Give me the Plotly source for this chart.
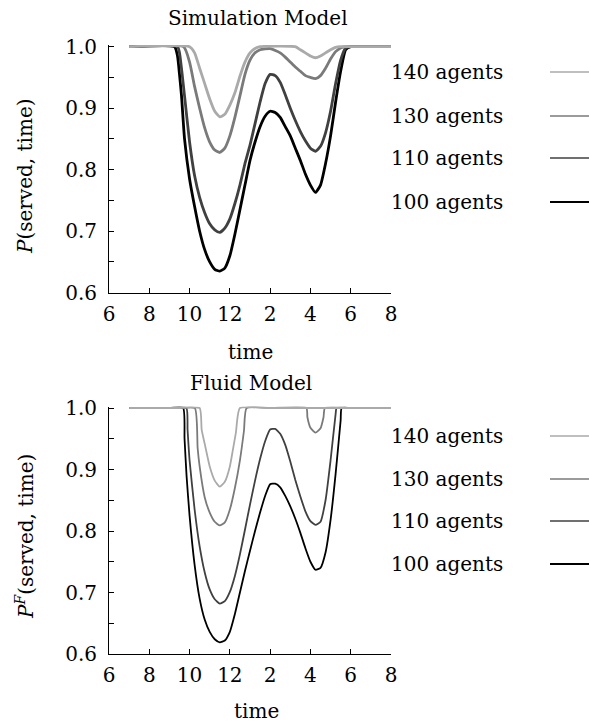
import plotly.graph_objects as go

# ---------------- data ----------------
series_names = ["100 agents", "110 agents", "130 agents", "140 agents"]
series_colors = ["#000000", "#404040", "#7a7a7a", "#aaaaaa"]

# Simulation model (hours of day, 12 = noon, 14 = 2pm ...)
sim_t_100 = [7, 9.25, 9.4, 9.5, 9.6, 9.75, 10.0, 10.25, 10.5, 10.75, 11.0, 11.25, 11.5, 11.75, 12.0, 12.25,
             12.5, 12.75, 13.0, 13.25, 13.5, 13.75, 14.0, 14.25, 14.5, 14.75, 15.0, 15.25, 15.5, 15.75, 16.0,
             16.25, 16.5, 16.75, 17.0, 17.25, 17.5, 17.75, 18.0, 19.0, 20]
sim_v_100 = [1.0, 1.0, 0.985, 0.955, 0.92, 0.85, 0.785, 0.74, 0.70, 0.67, 0.65, 0.638, 0.635, 0.64, 0.66, 0.695,
             0.735, 0.775, 0.815, 0.845, 0.87, 0.887, 0.895, 0.893, 0.885, 0.87, 0.855, 0.835, 0.815, 0.793, 0.775,
             0.763, 0.775, 0.81, 0.855, 0.91, 0.96, 0.995, 1.0, 1.0, 1.0]

sim_t_110 = [7, 9.4, 9.5, 9.75, 10.0, 10.25, 10.5, 10.75, 11.0, 11.25, 11.5, 11.75, 12.0, 12.25, 12.5, 12.75,
             13.0, 13.25, 13.5, 13.75, 14.0, 14.25, 14.5, 14.75, 15.0, 15.25, 15.5, 15.75, 16.0, 16.25, 16.5,
             16.75, 17.0, 17.25, 17.5, 17.75, 18.0, 19.0, 20]
sim_v_110 = [1.0, 1.0, 0.99, 0.92, 0.845, 0.79, 0.755, 0.73, 0.712, 0.702, 0.698, 0.705, 0.72, 0.745, 0.775, 0.81,
             0.84, 0.875, 0.91, 0.94, 0.955, 0.953, 0.942, 0.922, 0.90, 0.88, 0.862, 0.847, 0.835, 0.83, 0.838,
             0.86, 0.895, 0.94, 0.978, 0.998, 1.0, 1.0, 1.0]

sim_t_130 = [7, 9.7, 10.0, 10.25, 10.5, 10.75, 11.0, 11.25, 11.5, 11.75, 12.0, 12.25, 12.5, 12.75, 13.0, 13.25,
             13.5, 14.0, 14.5, 14.75, 15.0, 15.25, 15.5, 15.75, 16.0, 16.25, 16.5, 16.75, 17.0, 17.25, 17.5,
             17.75, 19.0, 20]
sim_v_130 = [1.0, 1.0, 0.975, 0.935, 0.90, 0.868, 0.845, 0.832, 0.828, 0.835, 0.855, 0.885, 0.92, 0.955, 0.978, 0.99,
             0.995, 0.997, 0.99, 0.983, 0.975, 0.967, 0.96, 0.953, 0.95, 0.948, 0.953, 0.965, 0.98, 0.992, 0.998,
             1.0, 1.0, 1.0]

sim_t_140 = [7, 10.0, 10.25, 10.5, 10.75, 11.0, 11.25, 11.5, 11.75, 12.0, 12.25, 12.5, 12.75, 13.0, 13.25, 13.5,
             15.25, 15.5, 15.75, 16.0, 16.25, 16.5, 16.75, 17.0, 17.25, 17.5, 19.0, 20]
sim_v_140 = [1.0, 1.0, 0.99, 0.965, 0.94, 0.915, 0.895, 0.886, 0.89, 0.905, 0.925, 0.952, 0.975, 0.99, 0.997, 1.0,
             1.0, 0.995, 0.99, 0.985, 0.982, 0.985, 0.99, 0.995, 0.999, 1.0, 1.0, 1.0]

# Fluid model
fl_t_100 = [7, 9.0, 9.68, 9.75, 9.85, 10.0, 10.25, 10.5, 10.75, 11.0, 11.25, 11.5, 11.75, 12.0, 12.25, 12.5,
            12.75, 13.0, 13.25, 13.5, 13.75, 14.0, 14.25, 14.5, 14.75, 15.0, 15.25, 15.5, 15.75, 16.0, 16.25,
            16.5, 16.75, 17.0, 17.25, 17.5, 17.55, 18.0, 20]
fl_v_100 = [1.0, 1.0, 1.0, 0.95, 0.89, 0.825, 0.745, 0.69, 0.656, 0.636, 0.624, 0.619, 0.622, 0.636, 0.665, 0.70,
            0.735, 0.768, 0.80, 0.83, 0.857, 0.876, 0.877, 0.871, 0.857, 0.84, 0.82, 0.797, 0.772, 0.750, 0.737,
            0.740, 0.765, 0.818, 0.893, 0.98, 1.0, 1.0, 1.0]

fl_t_110 = [7, 9.0, 9.84, 9.9, 10.0, 10.25, 10.5, 10.75, 11.0, 11.25, 11.5, 11.75, 12.0, 12.25, 12.5, 12.75,
            13.0, 13.25, 13.5, 13.75, 14.0, 14.25, 14.5, 14.75, 15.0, 15.25, 15.5, 15.75, 16.0, 16.25, 16.5,
            16.75, 17.0, 17.25, 17.3, 18.0, 20]
fl_v_110 = [1.0, 1.0, 1.0, 0.965, 0.915, 0.835, 0.775, 0.733, 0.705, 0.689, 0.682, 0.686, 0.701, 0.727, 0.762, 0.802,
            0.843, 0.882, 0.917, 0.946, 0.965, 0.966, 0.958, 0.94, 0.913, 0.883, 0.856, 0.832, 0.816, 0.810, 0.815,
            0.850, 0.915, 0.99, 1.0, 1.0, 1.0]

fl_t_130 = [7, 9.5, 10.26, 10.4, 10.5, 10.75, 11.0, 11.25, 11.5, 11.75, 12.0, 12.25, 12.5, 12.7, 12.83,
            14.0, 15.8, 15.85, 16.0, 16.25, 16.5, 16.65, 16.72, 18.0, 20]
fl_v_130 = [1.0, 1.0, 1.0, 0.935, 0.905, 0.855, 0.83, 0.815, 0.809, 0.814, 0.835, 0.87, 0.915, 0.963, 1.0,
            1.0, 1.0, 0.985, 0.968, 0.96, 0.967, 0.985, 1.0, 1.0, 1.0]

fl_t_140 = [7, 9.5, 10.5, 10.6, 10.75, 11.0, 11.25, 11.5, 11.75, 12.0, 12.15, 12.3, 12.5, 14.0, 20]
fl_v_140 = [1.0, 1.0, 1.0, 0.965, 0.942, 0.905, 0.882, 0.872, 0.88, 0.905, 0.932, 0.96, 1.0, 1.0, 1.0]

x_tickvals = [6, 8, 10, 12, 14, 16, 18, 20]
x_ticktext = ["6", "8", "10", "12", "2", "4", "6", "8"]
y_tickvals = [0.6, 0.65, 0.7, 0.75, 0.8, 0.85, 0.9, 0.95, 1.0]
y_ticktext = ["0.6", "", "0.7", "", "0.8", "", "0.9", "", "1.0"]

sim_t = [sim_t_100, sim_t_110, sim_t_130, sim_t_140]
sim_v = [sim_v_100, sim_v_110, sim_v_130, sim_v_140]
fl_t = [fl_t_100, fl_t_110, fl_t_130, fl_t_140]
fl_v = [fl_v_100, fl_v_110, fl_v_130, fl_v_140]

# ---------------- layout geometry ----------------
W, H = 589, 724
ML, MR, MT, MB = 109, 198, 45, 70
PW = W - ML - MR
PH = H - MT - MB
PX_PER_UNIT = 615.0
TOP_AX_Y = 292.7      # pixel row of the top plot's x axis
BOT_TOP_Y = 406.6     # pixel row of the bottom plot's top edge


def px2x(px):
    return (px - ML) / PW


def py2y(py):
    return (H - MB - py) / PH


FONT = "DejaVu Serif"
FS = 20

fig = go.Figure()
for i in range(4):
    fig.add_trace(go.Scatter(x=sim_t[i], y=sim_v[i], mode="lines", xaxis="x", yaxis="y",
                             line=dict(color=series_colors[i], width=2.8, shape="spline", smoothing=0.5),
                             showlegend=False, hoverinfo="skip"))
for i in range(4):
    fig.add_trace(go.Scatter(x=fl_t[i], y=fl_v[i], mode="lines", xaxis="x2", yaxis="y2",
                             line=dict(color=series_colors[i], width=1.8, shape="spline", smoothing=0.5),
                             showlegend=False, hoverinfo="skip"))

axis_common = dict(showline=True, linecolor="black", linewidth=1, ticks="inside", ticklen=5,
                   tickcolor="black", showgrid=False, zeroline=False,
                   tickfont=dict(family=FONT, size=FS, color="black"))

top_range = [0.6, 0.6 + (TOP_AX_Y - MT) / PX_PER_UNIT]
bot_range = [0.6, 0.6 + ((H - MB) - BOT_TOP_Y) / PX_PER_UNIT]

fig.update_layout(
    width=W, height=H,
    margin=dict(l=ML, r=MR, t=MT, b=MB),
    paper_bgcolor="white", plot_bgcolor="white",
    showlegend=False,
    xaxis=dict(domain=[0, 1], range=[6, 20], anchor="y", tickvals=x_tickvals, ticktext=x_ticktext,
               ticklabelstandoff=3, **axis_common),
    yaxis=dict(domain=[py2y(TOP_AX_Y), 1], range=top_range, anchor="x", tickvals=y_tickvals,
               ticktext=y_ticktext, ticklabelstandoff=7, **axis_common),
    xaxis2=dict(domain=[0, 1], range=[6, 20], anchor="y2", tickvals=x_tickvals, ticktext=x_ticktext,
                ticklabelstandoff=3, **axis_common),
    yaxis2=dict(domain=[0, py2y(BOT_TOP_Y)], range=bot_range, anchor="x2", tickvals=y_tickvals,
                ticktext=y_ticktext, ticklabelstandoff=7, **axis_common),
)

font = dict(family=FONT, size=FS, color="black")
annotations = [
    dict(text="Simulation Model", x=px2x(258), y=py2y(18)),
    dict(text="Fluid Model", x=px2x(251), y=py2y(383)),
    dict(text="time", x=px2x(250), y=py2y(352)),
    dict(text="time", x=px2x(256), y=py2y(711)),
    dict(text="<i>P</i>(served, time)", x=px2x(25), y=py2y(176), textangle=-90),
    dict(text="<i>P</i><sup><i>F</i></sup>(served, time)", x=px2x(25), y=py2y(537), textangle=-90),
]
for a in annotations:
    a.update(xref="paper", yref="paper", showarrow=False, font=font, xanchor="center", yanchor="middle")
    fig.add_annotation(**a)

# legends (text left of a line sample, gnuplot style)
legend_order = [3, 2, 1, 0]
top_rows = [72, 116, 158, 202]
bot_rows = [436, 479, 521, 564]
for rows in (top_rows, bot_rows):
    for k, idx in enumerate(legend_order):
        fig.add_annotation(text=series_names[idx], x=px2x(389), y=py2y(rows[k]), xref="paper", yref="paper",
                           showarrow=False, font=font, xanchor="left", yanchor="middle")
        fig.add_shape(type="line", xref="paper", yref="paper", x0=px2x(550), x1=px2x(592),
                      y0=py2y(rows[k]), y1=py2y(rows[k]),
                      line=dict(color=series_colors[idx], width=1.5 if idx > 0 else 2))

fig.write_html("out.html")
